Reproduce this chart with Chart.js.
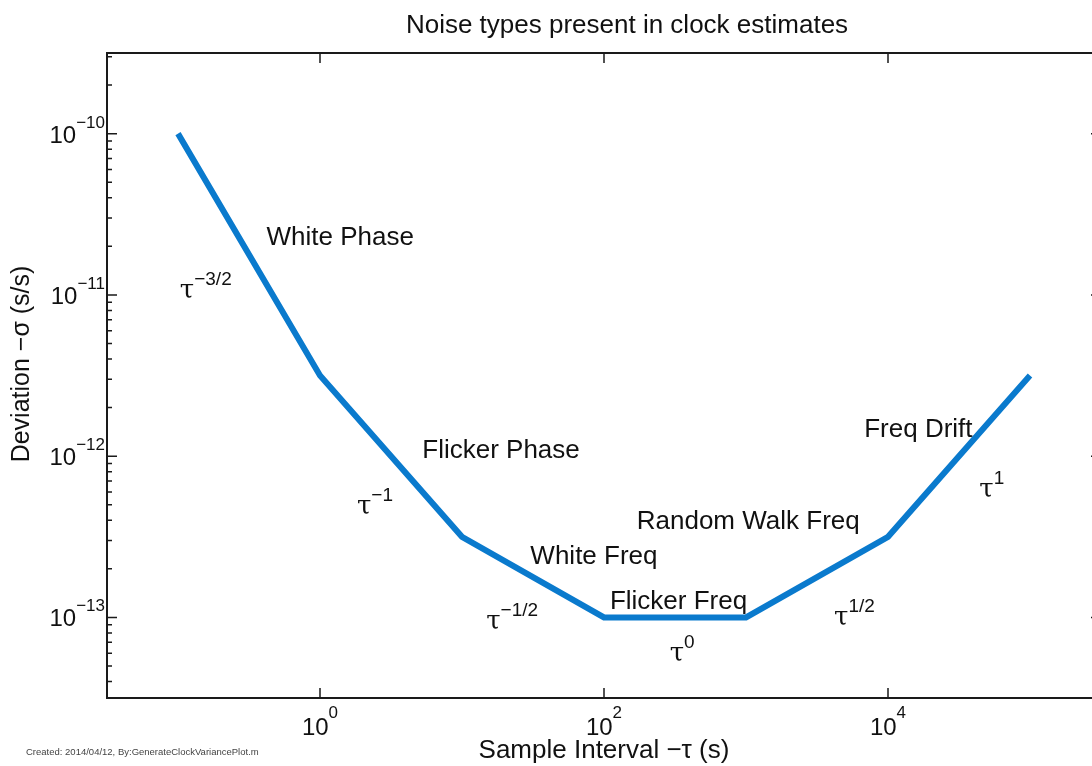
<!DOCTYPE html>
<html>
<head>
<meta charset="utf-8">
<script src="https://cdn.jsdelivr.net/npm/chart.js@4"></script>
<style>
  html, body { margin: 0; padding: 0; background: #fff; overflow: hidden; }
  #wrap { position: relative; width: 1102px; height: 766px; }
</style>
</head>
<body>
<div id="wrap"><canvas id="noiseChart"></canvas></div>
<script>
// sample interval tau (s) and deviation sigma (s/s) at the corners of the curve
var tau = [0.1, 1, 10, 100, 1000, 1e4, 1e5];
var deviation = [1e-10, 3.16e-12, 3.16e-13, 1e-13, 1e-13, 3.16e-13, 3.16e-12];

// decade exponents that carry a label
var xTickExp = [0, 2, 4];
var yTickExp = [-13, -12, -11, -10];

// noise type names and where they sit (data units)
var noiseNames = ['White Phase', 'Flicker Phase', 'White Freq', 'Flicker Freq', 'Random Walk Freq', 'Freq Drift'];
var noiseTau = [0.42, 5.25, 30.3, 110, 170, 6800];
var noiseDev = [2.04e-11, 9.73e-13, 2.14e-13, 1.13e-13, 3.53e-13, 1.31e-12];

// slope of each segment, tau^exp
var slopeExp = ['\u22123/2', '\u22121', '\u22121/2', '0', '1/2', '1'];
var slopeTau = [0.103, 1.82, 14.8, 290, 4170, 44000];
var slopeDev = [9.53e-12, 4.37e-13, 8.47e-14, 5.36e-14, 8.97e-14, 5.57e-13];

var sans = '"Liberation Sans", Arial, sans-serif';
var serif = '"DejaVu Serif", "Liberation Serif", serif';

var points = tau.map(function (t, i) { return { x: t, y: deviation[i] }; });

function power(ctx, base, exp, x, y, baseFont, expFont, rise, align) {
  ctx.font = baseFont;
  var wb = ctx.measureText(base).width;
  ctx.font = expFont;
  var we = ctx.measureText(exp).width;
  var x0 = x;
  if (align === 'right') x0 = x - wb - we;
  if (align === 'center') x0 = x - (wb + we) / 2;
  ctx.textAlign = 'left';
  ctx.textBaseline = 'alphabetic';
  ctx.font = baseFont;
  ctx.fillText(base, x0, y);
  ctx.font = expFont;
  ctx.fillText(exp, x0 + wb, y - rise);
}

var frame = {
  id: 'frame',
  afterDraw: function (chart) {
    var ctx = chart.ctx;
    var a = chart.chartArea;
    var xs = chart.scales.x, ys = chart.scales.y;
    ctx.save();
    ctx.strokeStyle = '#1a1a1a';
    ctx.lineWidth = 2;
    ctx.strokeRect(a.left, a.top, a.right - a.left, a.bottom - a.top);

    ctx.lineWidth = 1.5;
    ctx.beginPath();
    for (var e = -14; e <= -9; e++) {
      for (var m = 1; m < 10; m++) {
        var v = m * Math.pow(10, e);
        if (v < ys.min || v > ys.max) continue;
        var py = ys.getPixelForValue(v);
        var len = m === 1 ? 10 : 5;
        ctx.moveTo(a.left, py); ctx.lineTo(a.left + len, py);
        ctx.moveTo(a.right, py); ctx.lineTo(a.right - len, py);
      }
    }
    xTickExp.forEach(function (e) {
      var px = xs.getPixelForValue(Math.pow(10, e));
      ctx.moveTo(px, a.bottom); ctx.lineTo(px, a.bottom - 10);
      ctx.moveTo(px, a.top); ctx.lineTo(px, a.top + 10);
    });
    ctx.stroke();

    ctx.fillStyle = '#111';
    yTickExp.forEach(function (e) {
      var py = ys.getPixelForValue(Math.pow(10, e));
      power(ctx, '10', String(e).replace('-', '\u2212'), a.left - 2, py + 9,
        '24px ' + sans, '17px ' + sans, 15, 'right');
    });
    xTickExp.forEach(function (e) {
      var px = xs.getPixelForValue(Math.pow(10, e));
      power(ctx, '10', String(e), px, a.bottom + 37,
        '24px ' + sans, '17px ' + sans, 17, 'center');
    });

    // figure title, centred as in the original figure
    ctx.textAlign = 'center';
    ctx.textBaseline = 'alphabetic';
    ctx.font = '26px ' + sans;
    ctx.fillText('Noise types present in clock estimates', 627, 33);

    // y axis title
    ctx.save();
    ctx.translate(22, 364);
    ctx.rotate(-Math.PI / 2);
    ctx.textBaseline = 'middle';
    ctx.font = '25px ' + sans;
    ctx.fillText('Deviation \u2212\u03c3 (s/s)', 0, 0);
    ctx.restore();

    ctx.textAlign = 'left';
    ctx.textBaseline = 'alphabetic';
    ctx.font = '26px ' + sans;
    noiseNames.forEach(function (n, i) {
      ctx.fillText(n, xs.getPixelForValue(noiseTau[i]), ys.getPixelForValue(noiseDev[i]));
    });
    slopeExp.forEach(function (s, i) {
      power(ctx, '\u03c4', s, xs.getPixelForValue(slopeTau[i]), ys.getPixelForValue(slopeDev[i]),
        '26px ' + serif, '19px ' + sans, 13, 'left');
    });

    ctx.fillStyle = '#444';
    ctx.font = '9.5px ' + sans;
    ctx.fillText('Created: 2014/04/12, By:GenerateClockVariancePlot.m', 26, 755);
    ctx.restore();
  }
};

new Chart(document.getElementById('noiseChart'), {
  type: 'line',
  data: {
    datasets: [{
      data: points,
      borderColor: '#0a7acd',
      borderWidth: 6,
      borderJoinStyle: 'miter',
      pointRadius: 0,
      tension: 0,
      fill: false
    }]
  },
  options: {
    responsive: true,
    maintainAspectRatio: false,
    animation: false,
    layout: { padding: { left: 0, right: 1, top: 53, bottom: 0 } },
    plugins: {
      legend: { display: false },
      tooltip: { enabled: false },
      title: { display: false }
    },
    scales: {
      x: {
        type: 'logarithmic',
        min: Math.pow(10, -1.5),
        max: Math.pow(10, 5.5),
        grid: { display: false },
        border: { display: false },
        ticks: { display: false },
        title: {
          display: true,
          text: 'Sample Interval \u2212\u03c4 (s)',
          color: '#111',
          font: { family: sans, size: 26 },
          padding: { top: 0, bottom: 0 }
        },
        afterFit: function (scale) { scale.height = 68; }
      },
      y: {
        type: 'logarithmic',
        min: Math.pow(10, -13.5),
        max: Math.pow(10, -9.5),
        grid: { display: false },
        border: { display: false },
        ticks: { display: false },
        title: { display: false },
        afterFit: function (scale) { scale.width = 107; }
      }
    }
  },
  plugins: [frame]
});
</script>
</body>
</html>
